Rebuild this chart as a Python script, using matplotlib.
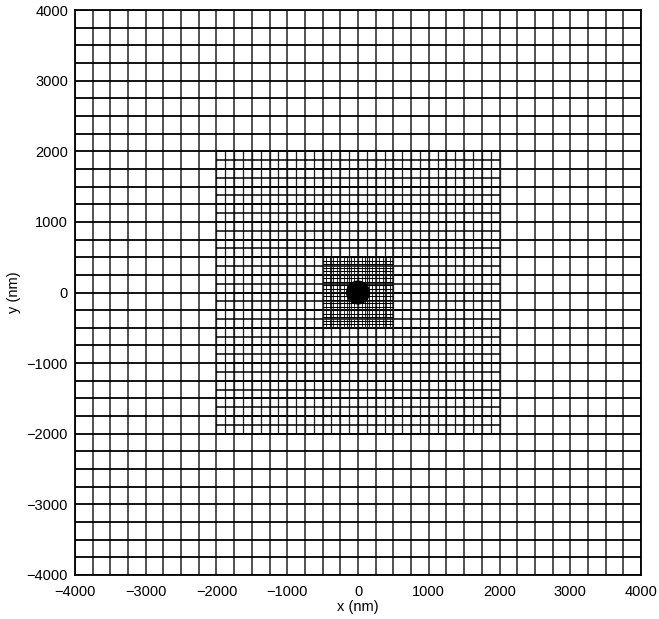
import numpy as np
import matplotlib
matplotlib.use("Agg")
import matplotlib.pyplot as plt
from matplotlib.patches import Circle

plt.rcParams['font.family'] = ['Liberation Sans', 'DejaVu Sans']

# mesh zones: half-width (nm), cell size (nm), line width
zone_half = [4000, 2000, 500]
zone_step = [250, 125, 50]
zone_lw = [1.3, 1.1, 0.8]
# particle at the centre
particle_xy = (0, 0)
particle_r = 160

ticks = [-4000, -3000, -2000, -1000, 0, 1000, 2000, 3000, 4000]

fig = plt.figure(figsize=(6.59, 6.19), dpi=100)
ax = fig.add_axes([0.1138, 0.0711, 0.8589, 0.9127])

for half, step, lw in zip(zone_half, zone_step, zone_lw):
    pos = np.arange(-half, half + step / 2, step)
    ax.vlines(pos, -half, half, colors='#222222', lw=lw * 0.85)
    ax.hlines(pos, -half, half, colors='black', lw=lw)

ax.add_patch(Circle(particle_xy, particle_r, color='black', zorder=5))

ax.set_xlim(-4000, 4000)
ax.set_ylim(-4000, 4000)
ax.set_xticks(ticks)
ax.set_yticks(ticks)
ax.set_xticklabels([str(t).replace('-', '\u2212') for t in ticks])
ax.set_yticklabels([str(t).replace('-', '\u2212') for t in ticks])
ax.tick_params(length=0, labelsize=10.5)
ax.tick_params(axis='x', pad=7)
ax.tick_params(axis='y', pad=5)
ax.set_xlabel('x (nm)', fontsize=10.5, labelpad=1)
ax.set_ylabel('y (nm)', fontsize=10.5, labelpad=4)
for s in ax.spines.values():
    s.set_linewidth(1.3)

fig.savefig('out.png', dpi=100)
